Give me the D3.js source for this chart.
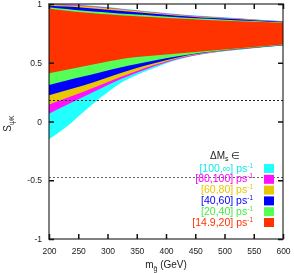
<!DOCTYPE html>
<html>
<head>
<meta charset="utf-8">
<script src="https://cdn.jsdelivr.net/npm/d3@7"></script>
<style>
  body { margin: 0; background: #fff; }
  svg { display: block; font-family: "Liberation Sans", Arial, sans-serif; }
</style>
</head>
<body>
<div id="chart"></div>
<script>
// gluino mass grid (GeV)
var masses = [200, 230, 260, 290, 320, 350, 380, 420, 460, 500, 550, 600];

// band limits for each Delta M_s range, outer band first
var cyanTop    = [1.000, 0.998, 0.992, 0.979, 0.964, 0.949, 0.934, 0.914, 0.899, 0.887, 0.871, 0.855];
var cyanLow    = [-0.150, -0.045, 0.085, 0.210, 0.320, 0.395, 0.455, 0.525, 0.570, 0.598, 0.623, 0.647];
var magentaTop = [0.996, 0.993, 0.987, 0.975, 0.960, 0.945, 0.930, 0.911, 0.896, 0.884, 0.869, 0.853];
var magentaLow = [0.065, 0.140, 0.212, 0.285, 0.355, 0.415, 0.470, 0.532, 0.573, 0.600, 0.625, 0.648];
var yellowTop  = [0.991, 0.987, 0.980, 0.969, 0.955, 0.940, 0.926, 0.907, 0.892, 0.881, 0.866, 0.851];
var yellowLow  = [0.145, 0.200, 0.255, 0.315, 0.375, 0.430, 0.480, 0.538, 0.576, 0.602, 0.626, 0.649];
var blueTop    = [0.985, 0.978, 0.968, 0.956, 0.943, 0.930, 0.917, 0.900, 0.886, 0.876, 0.862, 0.848];
var blueLow    = [0.224, 0.265, 0.308, 0.358, 0.408, 0.455, 0.495, 0.545, 0.580, 0.604, 0.628, 0.650];
var greenTop   = [0.973, 0.958, 0.943, 0.931, 0.920, 0.910, 0.901, 0.888, 0.877, 0.867, 0.856, 0.845];
var greenLow   = [0.310, 0.350, 0.385, 0.422, 0.458, 0.490, 0.520, 0.555, 0.585, 0.607, 0.630, 0.652];
var redTop     = [0.960, 0.943, 0.927, 0.915, 0.905, 0.896, 0.888, 0.877, 0.867, 0.858, 0.849, 0.840];
var redLow     = [0.410, 0.440, 0.470, 0.500, 0.528, 0.548, 0.562, 0.578, 0.595, 0.613, 0.634, 0.655];

var rangeLabels = ['[100,\u221e]', '[80,100]', '[60,80]', '[40,60]', '[20,40]', '[14.9,20]'];
var refLines = [0.187, -0.474];

var xTicks = [200, 250, 300, 350, 400, 450, 500, 550, 600];
var yTicks = [-1, -0.5, 0, 0.5, 1];
var yTickLabels = ['-1', '-0.5', '0', '0.5', '1'];

var bands = [
  { label: rangeLabels[0], top: cyanTop, low: cyanLow, fill: '#22ffff', text: '#11e8e8' },
  { label: rangeLabels[1], top: magentaTop, low: magentaLow, fill: '#ff11ff', text: '#ff00ff' },
  { label: rangeLabels[2], top: yellowTop, low: yellowLow, fill: '#e8c800', text: '#e8c800' },
  { label: rangeLabels[3], top: blueTop, low: blueLow, fill: '#0000ff', text: '#0000ff' },
  { label: rangeLabels[4], top: greenTop, low: greenLow, fill: '#55ff55', text: '#44ee44' },
  { label: rangeLabels[5], top: redTop, low: redLow, fill: '#ff3300', text: '#ff3300' }
];

var width = 294, height = 273;
var margin = { top: 4, right: 11, bottom: 34, left: 49 };
var innerW = width - margin.left - margin.right;
var innerH = height - margin.top - margin.bottom;

var svg = d3.select('#chart')
  .append('svg')
  .attr('width', width)
  .attr('height', height);

var x = d3.scaleLinear().domain([200, 600]).range([0, innerW]);
var y = d3.scaleLinear().domain([-1, 1]).range([innerH, 0]);

var g = svg.append('g')
  .attr('transform', 'translate(' + margin.left + ',' + margin.top + ')');

// bands, outer first so inner ones cover them
bands.forEach(function (b) {
  var area = d3.area()
    .x(function (d, i) { return x(masses[i]); })
    .y0(function (d, i) { return y(b.low[i]); })
    .y1(function (d, i) { return y(b.top[i]); })
    .curve(d3.curveMonotoneX);
  g.append('path')
    .datum(masses)
    .attr('d', area)
    .attr('fill', b.fill);
});

// reference lines
g.selectAll('.ref')
  .data(refLines)
  .enter()
  .append('line')
  .attr('class', 'ref')
  .attr('x1', 0)
  .attr('x2', innerW)
  .attr('y1', function (d) { return Math.round(y(d)) + 0.5; })
  .attr('y2', function (d) { return Math.round(y(d)) + 0.5; })
  .attr('stroke', function (d, i) { return i === 0 ? '#222' : '#666'; })
  .attr('stroke-width', 1)
  .attr('stroke-dasharray', '2,2');

// frame, multiplied so bands show through darker
g.append('rect')
  .attr('width', innerW)
  .attr('height', innerH)
  .attr('fill', 'none')
  .attr('stroke', '#808080')
  .attr('stroke-width', 2)
  .style('mix-blend-mode', 'multiply');

// axes with inward ticks on all four sides
var tickLen = 5;
g.append('g')
  .attr('transform', 'translate(0,' + innerH + ')')
  .call(d3.axisBottom(x).tickValues(xTicks).tickSizeInner(-tickLen).tickSizeOuter(0).tickPadding(tickLen + 4))
  .call(styleAxis);
g.append('g')
  .call(d3.axisTop(x).tickValues(xTicks).tickSizeInner(-tickLen).tickSizeOuter(0).tickFormat(''))
  .call(styleAxis);
g.append('g')
  .call(d3.axisLeft(y).tickValues(yTicks).tickSizeInner(-tickLen).tickSizeOuter(0).tickPadding(tickLen + 2)
    .tickFormat(function (d, i) { return yTickLabels[i]; }))
  .call(styleAxis);
g.append('g')
  .attr('transform', 'translate(' + innerW + ',0)')
  .call(d3.axisRight(y).tickValues(yTicks).tickSizeInner(-tickLen).tickSizeOuter(0).tickFormat(''))
  .call(styleAxis);

function styleAxis(sel) {
  sel.select('.domain').remove();
  sel.selectAll('.tick line').attr('stroke', '#111').attr('stroke-width', 1.5);
  sel.selectAll('.tick text')
    .attr('fill', '#222')
    .style('font-size', '8.5px')
    .style('font-family', '"Liberation Sans", Arial, sans-serif');
}

// axis titles
var xTitle = svg.append('text')
  .attr('x', margin.left + innerW / 2)
  .attr('y', 268)
  .attr('text-anchor', 'middle')
  .attr('fill', '#222')
  .style('font-size', '10px');
xTitle.append('tspan').text('m');
xTitle.append('tspan').attr('dy', 3).style('font-size', '7px').text('g\u0303');
xTitle.append('tspan').attr('dy', -3).text(' (GeV)');

var yTitle = svg.append('text')
  .attr('transform', 'translate(11,' + (margin.top + y(0) + 2) + ') rotate(-90)')
  .attr('text-anchor', 'middle')
  .attr('fill', '#222')
  .style('font-size', '10px');
yTitle.append('tspan').text('S');
yTitle.append('tspan').attr('dy', 3).style('font-size', '7px').text('\u03c8K');

// legend
var legendTitle = svg.append('text')
  .attr('x', 210)
  .attr('y', 159)
  .attr('fill', '#222')
  .style('font-size', '10px');
legendTitle.append('tspan').text('\u0394M');
legendTitle.append('tspan').attr('dy', 2).style('font-size', '7px').text('s');
legendTitle.append('tspan').attr('dy', -2).text(' \u2208');

var rowH = 10.8;
var rows = svg.selectAll('.legendRow')
  .data(bands)
  .enter()
  .append('g')
  .attr('class', 'legendRow')
  .attr('transform', function (d, i) { return 'translate(0,' + (164 + i * rowH) + ')'; });

rows.append('rect')
  .attr('x', 264)
  .attr('y', 0)
  .attr('width', 10)
  .attr('height', 9)
  .attr('fill', function (d) { return d.fill; });

var rowText = rows.append('text')
  .attr('x', 253)
  .attr('y', 7.5)
  .attr('text-anchor', 'end')
  .attr('fill', function (d) { return d.text; })
  .style('font-size', '10.5px');
rowText.append('tspan').text(function (d) { return d.label + ' ps'; });
rowText.append('tspan').attr('dy', -4).style('font-size', '6.5px').text('-1');
</script>
</body>
</html>
